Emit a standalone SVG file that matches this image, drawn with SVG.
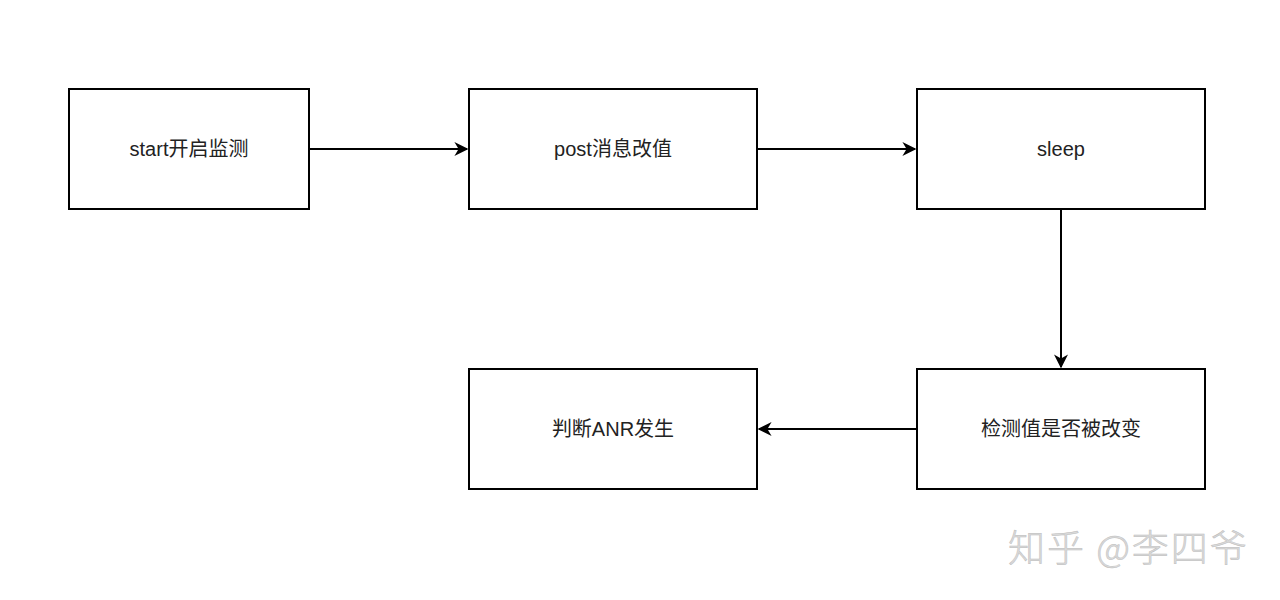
<svg xmlns="http://www.w3.org/2000/svg" width="1280" height="600" viewBox="0 0 1280 600">
<style>
.box{fill:#fff;stroke:#000;stroke-width:2}
.lbl{font-family:"Liberation Sans","Noto Sans CJK SC",sans-serif;font-size:20px;fill:#222;text-anchor:middle;dominant-baseline:central}
.edge{fill:none;stroke:#000;stroke-width:2}
.wm{font-family:"Noto Sans CJK SC",sans-serif;font-size:37px;font-weight:300;fill:#dadada;stroke:#bdbdbd;stroke-width:0.5;letter-spacing:2px}
</style>
<defs>
<marker id="arr" viewBox="0 0 10 10" refX="9" refY="5" markerWidth="14" markerHeight="14" markerUnits="userSpaceOnUse" orient="auto">
<path d="M0,0 L10,5 L0,10 L3,5 Z" fill="#000"/>
</marker>
</defs>
<rect width="1280" height="600" fill="#fff"/>
<g id="connectors">
<line class="edge" x1="309" y1="149" x2="467" y2="149" marker-end="url(#arr)"/>
<line class="edge" x1="757" y1="149" x2="915" y2="149" marker-end="url(#arr)"/>
<line class="edge" x1="1061" y1="209" x2="1061" y2="367" marker-end="url(#arr)"/>
<line class="edge" x1="917" y1="429" x2="759" y2="429" marker-end="url(#arr)"/>
</g>
<g id="start"><rect class="box" x="69" y="89" width="240" height="120"/><text class="lbl" x="189" y="149">start开启监测</text></g>
<g id="post"><rect class="box" x="469" y="89" width="288" height="120"/><text class="lbl" x="613" y="149">post消息改值</text></g>
<g id="sleep"><rect class="box" x="917" y="89" width="288" height="120"/><text class="lbl" x="1061" y="149">sleep</text></g>
<g id="check"><rect class="box" x="917" y="369" width="288" height="120"/><text class="lbl" x="1061" y="429">检测值是否被改变</text></g>
<g id="anr"><rect class="box" x="469" y="369" width="288" height="120"/><text class="lbl" x="613" y="429">判断ANR发生</text></g>
<text class="wm" x="1008" y="562">知乎 @李四爷</text>
</svg>
